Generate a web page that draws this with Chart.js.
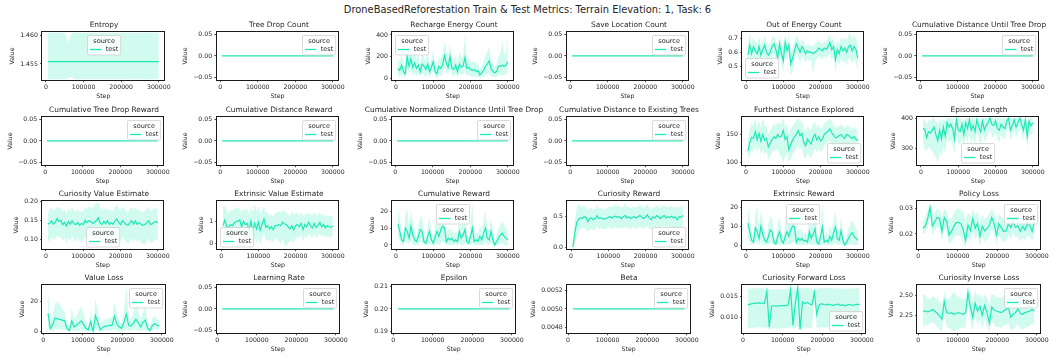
<!DOCTYPE html>
<html><head><meta charset="utf-8">
<script src="https://cdn.jsdelivr.net/npm/chart.js@4.4.1/dist/chart.umd.min.js"></script>
<style>
html,body{margin:0;padding:0;background:#fff;width:1049px;height:358px;overflow:hidden;position:relative;font-family:'DejaVu Sans',sans-serif;}
canvas{position:absolute;}
.ttl{position:absolute;white-space:nowrap;color:#262626;line-height:1;transform:translateX(-50%);}
</style></head><body>
<div id="main" class="ttl" style="left:527.5px;top:4.5px;font-size:9.9px;">DroneBasedReforestation Train &amp; Test Metrics: Terrain Elevation: 1, Task: 6</div>
<script>
// ---------------- DATA ----------------
const steps = [5000,10000,15000,20000,25000,30000,35000,40000,45000,50000,
  55000,60000,65000,70000,75000,80000,85000,90000,95000,100000,
  105000,110000,115000,120000,125000,130000,135000,140000,145000,150000,
  155000,160000,165000,170000,175000,180000,185000,190000,195000,200000,
  205000,210000,215000,220000,225000,230000,235000,240000,245000,250000,
  255000,260000,265000,270000,275000,280000,285000,290000,295000,300000];
const lossSteps = [12000,18000,24000,30000,36000,42000,48000,54000,60000,66000,
  72000,78000,84000,90000,96000,102000,108000,114000,120000,126000,
  132000,138000,144000,150000,156000,162000,168000,174000,180000,186000,
  192000,198000,204000,210000,216000,222000,228000,234000,240000,246000,
  252000,258000,264000,270000,276000,282000,288000,294000];

const xTicks = [0, 100000, 200000, 300000];
const xTickLabels = ['0', '100000', '200000', '300000'];

// constant series
const zeroSeries = steps.map(() => 0);
const zeroLossSeries = lossSteps.map(() => 0);
const epsilonSeries = lossSteps.map(() => 0.2);
const betaSeries = lossSteps.map(() => 0.005);
const entropyMean = steps.map(() => 1.4554);

const entropyUpper = [1.46045,1.46045,1.46045,1.46045,1.46045,1.46045,1.46045,1.46045,1.46045,1.46045,
  1.4596,1.4588,1.4600,1.46045,1.46045,1.46045,1.46045,1.46045,1.46045,1.46045,
  1.46045,1.46045,1.46045,1.46045,1.46045,1.46045,1.46045,1.46045,1.46045,1.46045,
  1.46045,1.46045,1.46045,1.46045,1.46045,1.46045,1.46045,1.46045,1.46045,1.46045,
  1.46045,1.46045,1.46045,1.46045,1.46045,1.46045,1.46045,1.46045,1.46045,1.46045,
  1.46045,1.46045,1.46045,1.46045,1.46045,1.46045,1.46045,1.46045,1.46045,1.46045];
const entropyLower = [1.45235,1.45235,1.45235,1.45235,1.45235,1.45235,1.45235,1.45235,1.45235,1.45235,
  1.45235,1.4527,1.4526,1.4527,1.45235,1.45235,1.45235,1.45235,1.45235,1.45235,
  1.45235,1.45235,1.45235,1.45235,1.45235,1.45235,1.45235,1.45235,1.45235,1.45235,
  1.45235,1.45235,1.45235,1.45235,1.45235,1.45235,1.45235,1.45235,1.45235,1.45235,
  1.45235,1.45235,1.45235,1.45235,1.45235,1.45235,1.45235,1.4526,1.45235,1.45235,
  1.45235,1.45235,1.45235,1.45235,1.45235,1.45235,1.45235,1.45235,1.45235,1.45235];

const rechargeMean = [90,70,120,60,40,200,110,180,100,140, 90,120,60,130,110,80,130,60,100,150,
  60,40,110,90,120,210,140,100,200,90, 80,120,60,130,100,110,190,90,100,80,
  70,80,60,70,30,50,70,110,130,160, 90,60,50,60,110,110,120,110,120,150];
const rechargeUpper = [180,150,210,130,110,300,200,290,190,250, 170,220,130,230,200,160,240,130,180,260,
  140,100,210,170,220,330,250,190,320,170, 160,220,130,240,190,200,410,180,190,160,
  150,160,130,150,80,110,150,210,240,290, 180,130,110,130,210,220,350,220,240,380];
const rechargeLower = [20,10,40,10,0,100,30,80,20,50, 20,40,10,50,30,10,40,10,30,60,
  10,0,30,20,40,100,50,30,90,20, 20,40,10,40,30,30,60,20,30,20,
  10,20,10,10,0,10,10,30,40,50, 20,10,10,10,30,30,20,30,30,40];

const outEnergyMean = [0.58,0.65,0.59,0.64,0.61,0.59,0.64,0.58,0.62,0.65, 0.60,0.58,0.60,0.64,0.66,0.62,0.56,0.66,0.59,0.54,
  0.67,0.61,0.65,0.52,0.56,0.61,0.66,0.63,0.60,0.64, 0.62,0.59,0.61,0.60,0.60,0.59,0.60,0.61,0.63,0.62,
  0.61,0.63,0.62,0.64,0.67,0.62,0.64,0.55,0.62,0.59, 0.64,0.61,0.63,0.60,0.64,0.65,0.61,0.64,0.62,0.56];
const outEnergyUpper = [0.66,0.73,0.66,0.70,0.67,0.66,0.71,0.65,0.68,0.72, 0.67,0.65,0.66,0.70,0.72,0.69,0.63,0.72,0.66,0.62,
  0.73,0.67,0.71,0.60,0.63,0.67,0.72,0.69,0.66,0.70, 0.67,0.64,0.66,0.65,0.65,0.64,0.66,0.67,0.68,0.67,
  0.66,0.68,0.67,0.70,0.73,0.68,0.70,0.63,0.68,0.66, 0.71,0.69,0.71,0.68,0.72,0.73,0.69,0.72,0.70,0.66];
const outEnergyLower = [0.50,0.57,0.51,0.57,0.54,0.52,0.56,0.50,0.55,0.57, 0.52,0.50,0.53,0.57,0.59,0.54,0.48,0.59,0.51,0.46,
  0.60,0.54,0.58,0.44,0.46,0.54,0.59,0.56,0.53,0.57, 0.56,0.53,0.55,0.54,0.55,0.44,0.54,0.55,0.57,0.56,
  0.55,0.57,0.56,0.57,0.60,0.55,0.57,0.46,0.55,0.51, 0.56,0.53,0.54,0.51,0.55,0.56,0.52,0.55,0.53,0.46];

const furthestMean = [121,135,145,143,155,140,152,138,150,140, 143,128,135,141,146,143,150,145,147,157,
  141,146,123,132,140,146,150,157,148,152, 136,130,142,137,133,145,150,140,146,139,
  142,150,153,156,160,153,149,144,145,148, 150,146,143,150,148,145,143,146,142,139];
const furthestUpper = [140,160,170,165,178,162,175,160,180,165, 165,150,158,162,170,165,172,168,170,180,
  165,168,150,160,165,170,175,180,172,176, 160,155,165,160,158,168,172,162,168,160,
  162,170,172,175,178,172,168,162,163,165, 168,165,160,166,165,162,160,164,160,158];
const furthestLower = [108,112,122,120,132,118,128,115,122,115, 120,105,112,118,122,120,125,115,110,100,
  112,118,100,106,114,120,125,132,122,128, 110,106,118,113,108,118,126,118,124,118,
  122,130,133,136,140,134,130,126,127,130, 132,128,126,132,130,128,126,128,125,122];

const episodeMean = [365,363,335,355,350,360,370,345,325,360, 330,370,340,385,370,380,365,330,395,360,
  355,380,345,385,365,395,360,375,355,395, 370,355,390,360,375,385,400,380,375,390,
  365,360,380,370,365,390,400,360,375,395, 370,385,400,380,360,395,340,390,375,385];
const episodeUpper = [395,398,380,395,390,398,400,390,380,400, 385,400,390,400,400,400,400,380,400,400,
  395,400,390,400,400,400,400,400,395,400, 400,395,400,400,400,400,400,400,400,400,
  400,400,400,400,400,400,400,400,400,400, 400,400,400,400,395,400,385,400,400,400];
const episodeLower = [320,295,290,305,300,290,280,270,250,290, 270,305,285,330,320,330,310,280,345,315,
  310,335,300,340,320,350,315,335,310,355, 330,310,350,320,335,345,365,340,335,355,
  330,320,345,335,330,355,370,325,340,360, 335,350,370,345,325,360,300,355,340,350];

const curValMean = [0.142,0.143,0.150,0.141,0.146,0.156,0.148,0.151,0.140,0.146, 0.136,0.148,0.141,0.150,0.142,0.140,0.146,0.138,0.143,0.140,
  0.151,0.145,0.150,0.148,0.143,0.146,0.150,0.158,0.145,0.140, 0.148,0.143,0.150,0.140,0.145,0.141,0.150,0.155,0.145,0.140,
  0.150,0.145,0.140,0.138,0.145,0.150,0.141,0.150,0.140,0.145, 0.140,0.138,0.140,0.145,0.150,0.141,0.142,0.146,0.148,0.144];
const curValUpper = [0.170,0.178,0.185,0.176,0.180,0.188,0.180,0.185,0.175,0.180, 0.170,0.182,0.175,0.185,0.178,0.172,0.180,0.172,0.176,0.175,
  0.186,0.180,0.188,0.185,0.180,0.190,0.195,0.198,0.185,0.178, 0.185,0.178,0.186,0.175,0.180,0.176,0.186,0.192,0.182,0.176,
  0.186,0.180,0.175,0.172,0.180,0.186,0.178,0.185,0.176,0.180, 0.175,0.172,0.175,0.180,0.186,0.176,0.178,0.182,0.184,0.178];
const curValLower = [0.100,0.095,0.108,0.098,0.104,0.112,0.106,0.108,0.098,0.104, 0.092,0.105,0.098,0.108,0.100,0.096,0.104,0.095,0.100,0.098,
  0.108,0.102,0.106,0.104,0.098,0.100,0.104,0.112,0.100,0.095, 0.102,0.098,0.106,0.096,0.100,0.098,0.106,0.110,0.100,0.096,
  0.106,0.100,0.094,0.092,0.098,0.104,0.095,0.104,0.094,0.100, 0.094,0.090,0.088,0.095,0.104,0.094,0.092,0.098,0.102,0.098];

const extValMean = [0.80,1.05,0.78,0.70,0.85,0.80,0.92,0.98,1.00,1.05, 0.75,1.00,0.85,0.90,0.60,1.00,0.55,0.90,0.65,0.95,
  0.60,0.85,1.10,0.72,0.80,0.65,0.75,0.62,0.80,0.80, 0.85,0.80,0.95,0.88,0.85,0.75,0.65,0.80,0.62,0.80,
  0.85,0.75,0.90,0.62,0.85,0.75,0.95,0.80,0.70,0.90, 0.72,0.80,0.95,0.75,0.85,0.70,0.80,0.75,0.72,0.78];
const extValUpper = [1.65,1.70,1.45,1.35,1.50,1.45,1.55,1.60,1.55,1.60, 1.35,1.55,1.50,1.55,1.30,1.60,1.40,1.75,1.45,1.65,
  1.30,1.50,1.65,1.35,1.40,1.25,1.30,1.20,1.35,1.40, 1.45,1.35,1.50,1.45,1.40,1.30,1.25,1.45,1.30,1.35,
  1.40,1.25,1.40,1.20,1.35,1.30,1.40,1.30,1.25,1.40, 1.25,1.30,1.40,1.25,1.30,1.20,1.25,1.25,1.20,1.28];
const extValLower = [0.00,0.40,0.15,0.10,0.25,0.20,0.35,0.40,0.45,0.50, 0.20,0.45,0.25,0.30,0.00,0.35,-0.05,0.20,0.05,0.25,
  0.00,0.25,0.50,0.15,0.20,0.10,0.20,0.05,0.25,0.20, 0.10,0.00,0.25,0.00,-0.15,0.10,0.05,0.20,0.00,0.25,
  0.30,0.25,0.40,0.10,0.35,0.25,0.45,0.35,0.25,0.45, 0.25,0.35,0.50,0.30,0.40,0.25,0.35,0.30,0.30,0.35];

const cumRewardMean = [12.5,8,3,2,10,8,4,11,6,3, 2,5,9,8,2,1,5,8,3,1,
  5,8,5,9,11,10,2,4,3,4, 2,3,2,8,4,6,9,2,1,5,
  10,2,3,2,5,3,7,10,4,3, 8,3,0,2,4,6,7,5,4,3];
const cumRewardUpper = [22,15,8,6,18,22,10,20,14,8, 5,12,17,16,6,4,12,16,8,4,
  12,17,12,18,22,20,7,10,8,10, 6,8,6,16,10,14,22,6,4,12,
  25,6,8,6,12,8,14,20,10,8, 16,8,2,6,10,12,14,12,10,8];
const cumRewardLower = [5,2,0,0,3,1,0,3,0,0, 0,0,2,1,0,0,0,1,0,0,
  0,1,0,1,2,2,0,0,0,0, 0,0,0,1,0,0,1,0,0,0,
  1,0,0,0,0,0,0,2,0,0, 1,0,0,0,0,1,1,0,0,0];

const curRewardMean = [0.00,0.22,0.40,0.46,0.48,0.47,0.50,0.49,0.42,0.47, 0.48,0.45,0.47,0.52,0.47,0.48,0.47,0.46,0.47,0.49,
  0.50,0.48,0.50,0.51,0.49,0.50,0.47,0.50,0.52,0.48, 0.50,0.47,0.49,0.50,0.48,0.50,0.52,0.49,0.47,0.50,
  0.53,0.48,0.45,0.50,0.48,0.52,0.50,0.47,0.50,0.52, 0.48,0.50,0.49,0.51,0.48,0.50,0.45,0.50,0.49,0.52];
const curRewardUpper = [0.02,0.45,0.62,0.70,0.68,0.65,0.68,0.66,0.60,0.64, 0.64,0.62,0.63,0.68,0.63,0.64,0.63,0.62,0.64,0.66,
  0.67,0.66,0.68,0.70,0.67,0.68,0.64,0.67,0.72,0.65, 0.67,0.64,0.66,0.67,0.65,0.67,0.70,0.66,0.64,0.67,
  0.70,0.65,0.62,0.67,0.65,0.69,0.67,0.64,0.67,0.69, 0.65,0.67,0.66,0.68,0.65,0.67,0.62,0.67,0.66,0.70];
const curRewardLower = [0.00,0.05,0.20,0.25,0.30,0.30,0.32,0.30,0.25,0.30, 0.30,0.28,0.30,0.35,0.30,0.32,0.30,0.30,0.30,0.32,
  0.33,0.30,0.32,0.33,0.31,0.32,0.30,0.32,0.34,0.31, 0.32,0.30,0.32,0.33,0.30,0.32,0.34,0.31,0.30,0.33,
  0.35,0.31,0.28,0.33,0.31,0.35,0.33,0.30,0.33,0.35, 0.31,0.33,0.32,0.34,0.31,0.33,0.28,0.33,0.32,0.35];

const extRewardMean = [11.5,7,2.5,1.5,9,7,3.5,10,5.5,2.5, 1.5,4.5,8,7,1.5,0.5,4.5,7,2.5,1,
  4.5,7,4.5,8,10,9.5,1.5,3.5,2.5,3.5, 2,2.5,1.5,7,3.5,5.5,8.5,1.5,0.5,4.5,
  9.5,1.5,2.5,1.5,4.5,2.5,6.5,9.5,3.5,2.5, 7.5,2.5,0,1.5,3.5,5.5,6.5,4.5,3.5,2.5];
const extRewardUpper = [20,14,7,5,16,20,9,18,13,7, 4,11,15,14,5,3,11,15,7,3,
  11,16,11,16,20,18,6,9,7,9, 5,7,5,15,9,13,20,5,3,11,
  22,5,7,5,11,7,13,18,9,7, 15,7,1.5,5,9,11,13,11,9,7];
const extRewardLower = [4,1.5,0,0,2.5,0.5,0,2.5,0,0, 0,0,1.5,0.5,0,0,0,0.5,0,0,
  0,0.5,0,0.5,1.5,1.5,0,0,0,0, 0,0,0,0.5,0,0,0.5,0,0,0,
  0.5,0,0,0,0,0,0,1.5,0,0, 0.5,0,0,0,0,0.5,0.5,0,0,0];

const policyLossMean = [0.0222,0.0232,0.0260,0.0305,0.0232,0.0248,0.0265,0.0262,0.0210,0.0265,
  0.0250,0.0195,0.0210,0.0230,0.0245,0.0246,0.0240,0.0215,0.0175,0.0235,
  0.0212,0.0260,0.0222,0.0242,0.0190,0.0230,0.0212,0.0222,0.0235,0.0265,
  0.0240,0.0196,0.0240,0.0225,0.0210,0.0212,0.0240,0.0225,0.0250,0.0226,
  0.0232,0.0210,0.0230,0.0215,0.0240,0.0235,0.0210,0.0250];
const policyLossUpper = [0.0250,0.0265,0.0295,0.0320,0.0275,0.0285,0.0300,0.0295,0.0265,0.0300,
  0.0290,0.0255,0.0260,0.0285,0.0300,0.0300,0.0295,0.0290,0.0250,0.0285,
  0.0270,0.0300,0.0270,0.0290,0.0245,0.0275,0.0260,0.0265,0.0280,0.0305,
  0.0280,0.0250,0.0280,0.0270,0.0255,0.0255,0.0280,0.0265,0.0290,0.0270,
  0.0275,0.0255,0.0275,0.0260,0.0285,0.0280,0.0255,0.0290];
const policyLossLower = [0.0200,0.0205,0.0225,0.0270,0.0195,0.0215,0.0230,0.0225,0.0170,0.0225,
  0.0210,0.0160,0.0170,0.0185,0.0195,0.0195,0.0190,0.0160,0.0150,0.0190,
  0.0165,0.0215,0.0180,0.0195,0.0155,0.0185,0.0170,0.0180,0.0190,0.0220,
  0.0195,0.0160,0.0195,0.0180,0.0170,0.0170,0.0195,0.0180,0.0205,0.0185,
  0.0190,0.0170,0.0185,0.0175,0.0195,0.0190,0.0170,0.0205];

const valueLossMean = [12,2,4.5,9,8.5,8,7.5,7,2,0.5, 7,3,4,5.5,7,4.5,2,1,6.5,0,
  10.5,6,1,2.5,3.5,3.5,4,4,10,5, 3,2,6,11.5,4,3.5,5.5,8,6,3, 6,7.5,2,0.5,4,5,4,3.5];
const valueLossUpper = [26,8,12,18,20,18,15,13,6,2, 16,8,10,14,17,12,6,3,15,1,
  22,14,4,7,8,8,9,9,20,12, 7,5,14,30,10,8,12,22,14,8, 13,17,6,2,9,10,8,7];
const valueLossLower = [2,0,0,2,1.5,1,1,1,0,0, 0.5,0,0,0.5,1,0.5,0,0,0,0,
  1.5,0.5,0,0,0.5,0.5,0.5,0.5,1.5,0.5, 0,0,0.5,1.5,0.5,0.5,1,1,0.5,0, 1,1,0,0,1,1.5,1,1];

const curFwdMean = [0.0130,0.0132,0.0133,0.0134,0.0134,0.0135,0.0134,0.0133,0.0162,0.0078,
  0.0127,0.0128,0.0127,0.0128,0.0128,0.0129,0.0128,0.0130,0.0166,0.0082,
  0.0135,0.0170,0.0073,0.0137,0.0133,0.0136,0.0132,0.0130,0.0160,0.0108,
  0.0130,0.0133,0.0131,0.0130,0.0132,0.0130,0.0129,0.0131,0.0132,0.0129,
  0.0130,0.0128,0.0130,0.0131,0.0129,0.0130,0.0132,0.0130];
const curFwdUpper = [0.0168,0.0168,0.0169,0.0169,0.0169,0.0170,0.0169,0.0168,0.0170,0.0165,
  0.0166,0.0167,0.0166,0.0167,0.0167,0.0168,0.0167,0.0168,0.0171,0.0168,
  0.0170,0.0172,0.0168,0.0170,0.0169,0.0170,0.0169,0.0168,0.0163,0.0168,
  0.0169,0.0170,0.0169,0.0169,0.0170,0.0169,0.0168,0.0169,0.0170,0.0168,
  0.0169,0.0167,0.0168,0.0169,0.0168,0.0169,0.0170,0.0169];
const curFwdLower = [0.0075,0.0076,0.0076,0.0077,0.0077,0.0078,0.0077,0.0076,0.0078,0.0072,
  0.0074,0.0075,0.0074,0.0075,0.0075,0.0076,0.0075,0.0076,0.0078,0.0074,
  0.0077,0.0079,0.0070,0.0078,0.0076,0.0077,0.0076,0.0075,0.0157,0.0076,
  0.0077,0.0078,0.0077,0.0076,0.0078,0.0077,0.0076,0.0077,0.0078,0.0076,
  0.0077,0.0075,0.0076,0.0077,0.0076,0.0077,0.0078,0.0077];

const curInvMean = [2.30,2.30,2.29,2.30,2.32,2.30,2.27,2.24,2.20,2.42,
  2.28,2.27,2.28,2.26,2.27,2.28,2.27,2.26,2.28,2.53,
  2.35,2.22,2.40,2.30,2.36,2.25,2.37,2.28,2.15,2.35,
  2.31,2.30,2.29,2.28,2.30,2.32,2.35,2.22,2.26,2.28,
  2.33,2.27,2.26,2.28,2.29,2.30,2.32,2.30];
const curInvUpper = [2.52,2.50,2.46,2.45,2.48,2.47,2.45,2.42,2.38,2.55,
  2.46,2.44,2.50,2.54,2.50,2.48,2.46,2.44,2.46,2.62,
  2.52,2.42,2.56,2.48,2.52,2.44,2.52,2.46,2.38,2.52,
  2.50,2.48,2.47,2.46,2.48,2.52,2.55,2.45,2.47,2.48,
  2.52,2.47,2.45,2.47,2.48,2.49,2.50,2.48];
const curInvLower = [2.10,2.12,2.12,2.15,2.16,2.14,2.10,2.07,2.04,2.28,
  2.10,2.09,2.07,2.04,2.06,2.08,2.09,2.08,2.10,2.40,
  2.18,2.05,2.25,2.12,2.20,2.08,2.22,2.10,2.04,2.18,
  2.12,2.10,2.10,2.09,2.12,2.13,2.15,2.05,2.08,2.10,
  2.14,2.08,2.07,2.09,2.10,2.12,2.14,2.12];

// tick values / labels per panel
const zeroTicks = [-0.05, 0, 0.05];          const zeroTickLabels = ['\u22120.05', '0.00', '0.05'];
const entropyTicks = [1.455, 1.460];         const entropyTickLabels = ['1.455', '1.460'];
const rechargeTicks = [0, 200, 400];         const rechargeTickLabels = ['0', '200', '400'];
const outEnergyTicks = [0.5, 0.6, 0.7];      const outEnergyTickLabels = ['0.5', '0.6', '0.7'];
const furthestTicks = [100, 150];            const furthestTickLabels = ['100', '150'];
const episodeTicks = [300, 400];             const episodeTickLabels = ['300', '400'];
const curValTicks = [0.10, 0.15, 0.20];      const curValTickLabels = ['0.10', '0.15', '0.20'];
const extValTicks = [0, 1];                  const extValTickLabels = ['0', '1'];
const cumRewardTicks = [0, 10, 20];          const cumRewardTickLabels = ['0', '10', '20'];
const curRewardTicks = [0, 0.5];             const curRewardTickLabels = ['0.0', '0.5'];
const extRewardTicks = [0, 10, 20];          const extRewardTickLabels = ['0', '10', '20'];
const policyTicks = [0.02, 0.03];            const policyTickLabels = ['0.02', '0.03'];
const valueLossTicks = [0, 20];              const valueLossTickLabels = ['0', '20'];
const epsilonTicks = [0.19, 0.20, 0.21];     const epsilonTickLabels = ['0.19', '0.20', '0.21'];
const betaTicks = [0.0048, 0.0050, 0.0052];  const betaTickLabels = ['0.0048', '0.0050', '0.0052'];
const curFwdTicks = [0.010, 0.015];          const curFwdTickLabels = ['0.010', '0.015'];
const curInvTicks = [2.25, 2.50];            const curInvTickLabels = ['2.25', '2.50'];

// ---------------- PANELS ----------------
const Z = {t: zeroTicks, l: zeroTickLabels, lim: [-0.055, 0.055]};
const PANELS = [
  {title:'Entropy', xs:steps, m:entropyMean, hi:entropyUpper, lo:entropyLower, lim:[1.4522,1.4606], t:entropyTicks, l:entropyTickLabels, leg:'upper center'},
  {title:'Tree Drop Count', xs:steps, m:zeroSeries, hi:zeroSeries, lo:zeroSeries, lim:Z.lim, t:Z.t, l:Z.l, leg:'upper right'},
  {title:'Recharge Energy Count', xs:steps, m:rechargeMean, hi:rechargeUpper, lo:rechargeLower, lim:[-18,428], t:rechargeTicks, l:rechargeTickLabels, leg:'upper left'},
  {title:'Save Location Count', xs:steps, m:zeroSeries, hi:zeroSeries, lo:zeroSeries, lim:Z.lim, t:Z.t, l:Z.l, leg:'upper right'},
  {title:'Out of Energy Count', xs:steps, m:outEnergyMean, hi:outEnergyUpper, lo:outEnergyLower, lim:[0.406,0.743], t:outEnergyTicks, l:outEnergyTickLabels, leg:'lower left'},
  {title:'Cumulative Distance Until Tree Drop', xs:steps, m:zeroSeries, hi:zeroSeries, lo:zeroSeries, lim:Z.lim, t:Z.t, l:Z.l, leg:'upper right'},

  {title:'Cumulative Tree Drop Reward', xs:steps, m:zeroSeries, hi:zeroSeries, lo:zeroSeries, lim:Z.lim, t:Z.t, l:Z.l, leg:'upper right'},
  {title:'Cumulative Distance Reward', xs:steps, m:zeroSeries, hi:zeroSeries, lo:zeroSeries, lim:Z.lim, t:Z.t, l:Z.l, leg:'upper right'},
  {title:'Cumulative Normalized Distance Until Tree Drop', xs:steps, m:zeroSeries, hi:zeroSeries, lo:zeroSeries, lim:Z.lim, t:Z.t, l:Z.l, leg:'upper right'},
  {title:'Cumulative Distance to Existing Trees', xs:steps, m:zeroSeries, hi:zeroSeries, lo:zeroSeries, lim:Z.lim, t:Z.t, l:Z.l, leg:'upper right'},
  {title:'Furthest Distance Explored', xs:steps, m:furthestMean, hi:furthestUpper, lo:furthestLower, lim:[96,181], t:furthestTicks, l:furthestTickLabels, leg:'lower right'},
  {title:'Episode Length', xs:steps, m:episodeMean, hi:episodeUpper, lo:episodeLower, lim:[244,404], t:episodeTicks, l:episodeTickLabels, leg:'lower center'},

  {title:'Curiosity Value Estimate', xs:steps, m:curValMean, hi:curValUpper, lo:curValLower, lim:[0.076,0.202], t:curValTicks, l:curValTickLabels, leg:'lower center'},
  {title:'Extrinsic Value Estimate', xs:steps, m:extValMean, hi:extValUpper, lo:extValLower, lim:[-0.24,1.9], t:extValTicks, l:extValTickLabels, leg:'lower left'},
  {title:'Cumulative Reward', xs:steps, m:cumRewardMean, hi:cumRewardUpper, lo:cumRewardLower, lim:[-2.4,26], t:cumRewardTicks, l:cumRewardTickLabels, leg:'upper center'},
  {title:'Curiosity Reward', xs:steps, m:curRewardMean, hi:curRewardUpper, lo:curRewardLower, lim:[-0.03,0.76], t:curRewardTicks, l:curRewardTickLabels, leg:'lower right'},
  {title:'Extrinsic Reward', xs:steps, m:extRewardMean, hi:extRewardUpper, lo:extRewardLower, lim:[-2.1,23.2], t:extRewardTicks, l:extRewardTickLabels, leg:'upper center'},
  {title:'Policy Loss', xs:lossSteps, m:policyLossMean, hi:policyLossUpper, lo:policyLossLower, lim:[0.014,0.0331], t:policyTicks, l:policyTickLabels, leg:'upper right'},

  {title:'Value Loss', xs:lossSteps, m:valueLossMean, hi:valueLossUpper, lo:valueLossLower, lim:[-1.2,31.2], t:valueLossTicks, l:valueLossTickLabels, leg:'upper right'},
  {title:'Learning Rate', xs:lossSteps, m:zeroLossSeries, hi:zeroLossSeries, lo:zeroLossSeries, lim:Z.lim, t:Z.t, l:Z.l, leg:'upper right'},
  {title:'Epsilon', xs:lossSteps, m:epsilonSeries, hi:epsilonSeries, lo:epsilonSeries, lim:[0.1895,0.2105], t:epsilonTicks, l:epsilonTickLabels, leg:'upper right'},
  {title:'Beta', xs:lossSteps, m:betaSeries, hi:betaSeries, lo:betaSeries, lim:[0.004735,0.005265], t:betaTicks, l:betaTickLabels, leg:'upper right'},
  {title:'Curiosity Forward Loss', xs:lossSteps, m:curFwdMean, hi:curFwdUpper, lo:curFwdLower, lim:[0.0064,0.0177], t:curFwdTicks, l:curFwdTickLabels, leg:'lower right'},
  {title:'Curiosity Inverse Loss', xs:lossSteps, m:curInvMean, hi:curInvUpper, lo:curInvLower, lim:[2.025,2.627], t:curInvTicks, l:curInvTickLabels, leg:'upper right'},
];

// ---------------- LAYOUT / STYLE ----------------
const COL_X = [42, 217, 392, 567, 742, 917];
const ROW_Y = [32, 116.5, 200.5, 284.5];
const BOX_W = 124, BOX_H = 47.5;
const X_RANGE_MAIN = [-9750, 314750];
const X_RANGE_LOSS = [-2100, 308100];
const FONT = "'DejaVu Sans', sans-serif";
const TXT = '#262626';
const LINE = '#1de9b6';
const BAND = 'rgba(29,233,182,0.2)';
const FS = 6.2;
const LEG_FS = 6.5;

Chart.defaults.font.family = FONT;
Chart.defaults.color = TXT;

function drawLegend(chart, loc) {
  const ctx = chart.ctx, ca = chart.chartArea;
  ctx.save();
  ctx.font = LEG_FS + 'px ' + FONT;
  const tw = ctx.measureText('source').width;
  const ew = ctx.measureText('test').width;
  const bp = 2.4, hl = 11.5, hp = 4.4;
  const W = 2 * bp + Math.max(tw, hl + hp + ew);
  const H = 19.5, pad = 3.0;
  let x, y;
  if (loc.indexOf('right') >= 0) x = ca.right - pad - W;
  else if (loc.indexOf('left') >= 0) x = ca.left + pad;
  else x = (ca.left + ca.right) / 2 - W / 2;
  if (loc.indexOf('upper') === 0) y = ca.top + pad; else y = ca.bottom - pad - H;
  x = Math.round(x) + 0.5; y = Math.round(y) + 0.5;
  const r = 1.5;
  ctx.beginPath();
  ctx.moveTo(x + r, y); ctx.lineTo(x + W - r, y); ctx.arcTo(x + W, y, x + W, y + r, r);
  ctx.lineTo(x + W, y + H - r); ctx.arcTo(x + W, y + H, x + W - r, y + H, r);
  ctx.lineTo(x + r, y + H); ctx.arcTo(x, y + H, x, y + H - r, r);
  ctx.lineTo(x, y + r); ctx.arcTo(x, y, x + r, y, r); ctx.closePath();
  ctx.fillStyle = 'rgba(255,255,255,0.8)'; ctx.fill();
  ctx.strokeStyle = '#d0d0d0'; ctx.lineWidth = 0.8; ctx.stroke();
  ctx.fillStyle = TXT; ctx.textBaseline = 'middle';
  ctx.textAlign = 'center';
  ctx.fillText('source', x + W / 2, y + 5.6);
  const ry = y + 14.0;
  ctx.beginPath(); ctx.moveTo(x + bp, ry); ctx.lineTo(x + bp + hl, ry);
  ctx.strokeStyle = LINE; ctx.lineWidth = 1.3; ctx.stroke();
  ctx.textAlign = 'left';
  ctx.fillText('test', x + bp + hl + hp, ry);
  ctx.restore();
}

const panelPlugin = {
  id: 'panel',
  afterDatasetsDraw(chart, args, opts) { drawLegend(chart, opts.loc); },
  afterDraw(chart) {
    const ctx = chart.ctx, ca = chart.chartArea;
    ctx.save();
    ctx.strokeStyle = '#1a1a1a'; ctx.lineWidth = 1;
    const l = Math.round(ca.left) - 0.5, t = Math.round(ca.top) - 0.5;
    const rr = Math.round(ca.right) + 0.5, b = Math.round(ca.bottom) + 0.5;
    ctx.strokeRect(l, t, rr - l, b - t);
    ctx.restore();
  }
};

function pts(xs, ys) { return xs.map((x, i) => ({x: x, y: ys[i]})); }

function makeConfig(p) {
  const xr = p.xs === steps ? X_RANGE_MAIN : X_RANGE_LOSS;
  const tickFont = {size: FS, family: FONT};
  return {
    type: 'line',
    data: { datasets: [
      {data: pts(p.xs, p.m), borderColor: LINE, borderWidth: 1.2, pointRadius: 0, fill: false, tension: 0},
      {data: pts(p.xs, p.hi), borderColor: 'rgba(0,0,0,0)', borderWidth: 0, backgroundColor: BAND, pointRadius: 0, fill: '+1', tension: 0},
      {data: pts(p.xs, p.lo), borderColor: 'rgba(0,0,0,0)', borderWidth: 0, pointRadius: 0, fill: false, tension: 0}
    ]},
    options: {
      responsive: false, maintainAspectRatio: false, animation: false, events: [],
      layout: {padding: {top: 4, right: 4, left: 2, bottom: 2}},
      plugins: {legend: {display: false}, tooltip: {enabled: false}, panel: {loc: p.leg}},
      scales: {
        x: {
          type: 'linear', min: xr[0], max: xr[1],
          afterBuildTicks: s => { s.ticks = xTicks.map(v => ({value: v})); },
          ticks: {autoSkip: false, maxRotation: 0, minRotation: 0, font: tickFont, color: TXT, padding: 1.2,
                  callback: (v, i) => xTickLabels[i]},
          grid: {drawOnChartArea: false, drawTicks: true, tickLength: 2.2, color: TXT, lineWidth: 0.8},
          border: {display: false},
          title: {display: true, text: 'Step', font: {size: FS, family: FONT}, color: TXT, padding: {top: 0.5, bottom: 0}}
        },
        y: {
          type: 'linear', min: p.lim[0], max: p.lim[1],
          afterBuildTicks: s => { s.ticks = p.t.map(v => ({value: v})); },
          ticks: {autoSkip: false, font: tickFont, color: TXT, padding: 2.2, callback: (v, i) => p.l[i]},
          grid: {drawOnChartArea: false, drawTicks: true, tickLength: 2.2, color: TXT, lineWidth: 0.8},
          border: {display: false},
          title: {display: true, text: 'Value', font: {size: FS, family: FONT}, color: TXT, padding: {top: 0, bottom: 1.5}}
        }
      }
    },
    plugins: [panelPlugin]
  };
}

function mkCanvas(w, h) {
  const c = document.createElement('canvas');
  c.width = w; c.height = h;
  c.style.width = w + 'px'; c.style.height = h + 'px';
  document.body.appendChild(c);
  return c;
}

PANELS.forEach((p, i) => {
  const r = Math.floor(i / 6), c = i % 6;
  const box = {x: COL_X[c], y: ROW_Y[r], w: BOX_W, h: BOX_H};
  const W0 = box.w + 90, H0 = box.h + 60;
  let cv = mkCanvas(W0, H0);
  let ch = new Chart(cv, makeConfig(p));
  const ca = ch.chartArea;
  const L = ca.left, T = ca.top, R = W0 - ca.right, B = H0 - ca.bottom;
  ch.destroy(); cv.remove();
  cv = mkCanvas(Math.round(L + box.w + R), Math.round(T + box.h + B));
  ch = new Chart(cv, makeConfig(p));
  const ca2 = ch.chartArea;
  cv.style.left = Math.round(box.x - ca2.left) + 'px';
  cv.style.top = Math.round(box.y - ca2.top) + 'px';
  const d = document.createElement('div');
  d.className = 'ttl';
  d.style.left = (box.x + box.w / 2) + 'px';
  d.style.top = (box.y - 10.7) + 'px';
  d.style.fontSize = '7.4px';
  d.textContent = p.title;
  document.body.appendChild(d);
});
</script>
</body></html>
